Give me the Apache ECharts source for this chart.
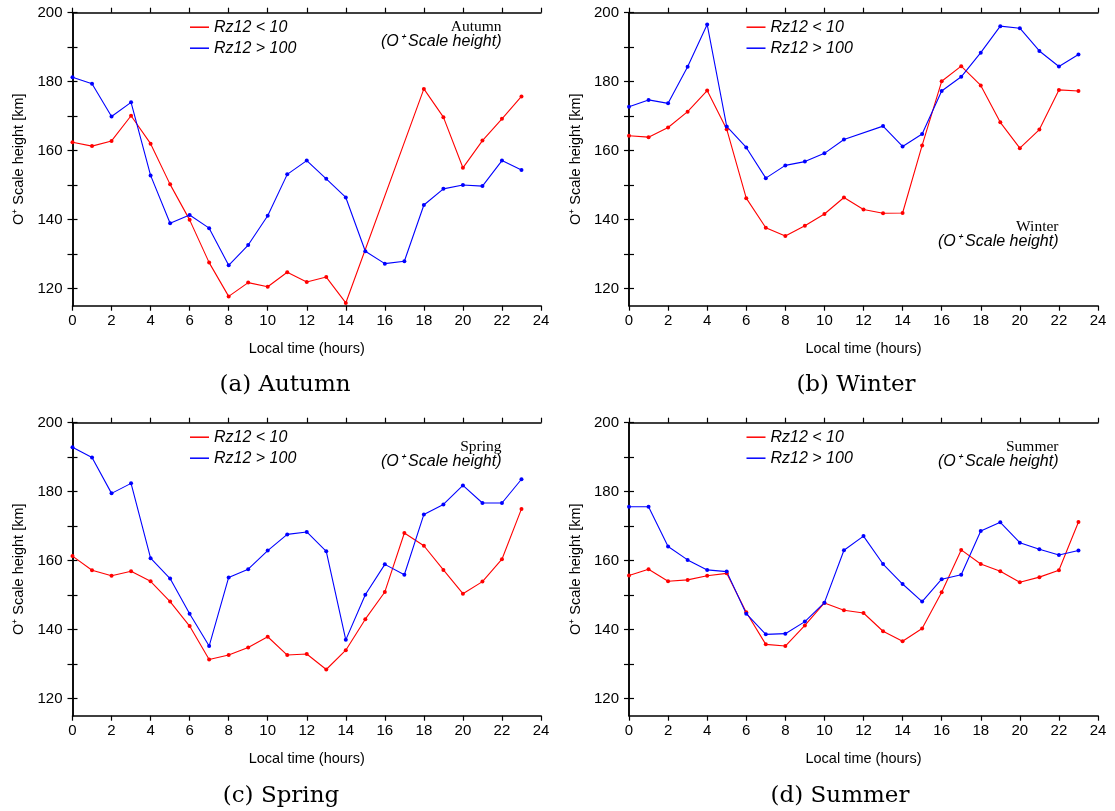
<!DOCTYPE html>
<html>
<head>
<meta charset="utf-8">
<title>O+ Scale height by local time</title>
<script src="https://cdn.jsdelivr.net/npm/echarts@6/dist/echarts.min.js"></script>
<style>
  html, body { margin: 0; padding: 0; background: #ffffff; }
  #chart { width: 1115px; height: 811px; }
</style>
</head>
<body>
<div id="chart"></div>
<script>
// Local time (hours) for each sample
const hours = [0,1,2,3,4,5,6,7,8,9,10,11,12,13,14,15,16,17,18,19,20,21,22,23];

// Series names
const lowName = 'Rz12 < 10';
const highName = 'Rz12 > 100';

// O+ scale height [km], low solar activity (Rz12 < 10)
const autumnLow = [162.4,161.3,162.8,170.1,162.0,150.2,139.9,127.5,117.7,121.7,120.5,124.7,121.9,123.3,115.8,null,null,null,177.9,169.7,155.0,162.9,169.2,175.7];
const winterLow = [164.3,163.9,166.7,171.3,177.4,166.2,146.2,137.6,135.2,138.2,141.6,146.4,142.9,141.8,141.9,161.5,180.1,184.5,178.9,168.2,160.7,166.1,177.6,177.3];
const springLow = [161.3,157.2,155.6,156.9,154.0,148.1,141.0,131.3,132.6,134.8,137.9,132.6,132.9,128.4,134.0,143.0,150.9,168.0,164.3,157.3,150.4,153.9,160.4,175.0];
const summerLow = [155.7,157.5,154.0,154.4,155.6,156.3,145.0,135.7,135.2,141.2,147.7,145.6,144.8,139.5,136.6,140.3,150.8,163.1,159.0,156.9,153.7,155.2,157.2,171.2];

// O+ scale height [km], high solar activity (Rz12 > 100)
const autumnHigh = [181.3,179.4,169.9,174.0,152.8,138.9,141.3,137.5,126.7,132.6,141.1,153.1,157.1,151.8,146.4,130.8,127.2,127.9,144.2,148.9,150.0,149.7,157.1,154.4];
const winterHigh = [172.7,174.7,173.7,184.3,196.6,167.0,160.9,152.0,155.7,156.8,159.2,163.2,null,167.1,161.2,164.8,177.3,181.4,188.4,196.1,195.5,188.9,184.4,187.9];
const springHigh = [192.9,189.9,179.5,182.4,160.7,154.8,144.6,135.2,155.1,157.5,162.9,167.6,168.3,162.7,137.0,150.1,158.9,155.9,173.4,176.3,181.8,176.7,176.7,183.6];
const summerHigh = [175.6,175.6,164.1,160.2,157.3,156.8,144.6,138.6,138.8,142.3,147.8,163.0,167.1,159.0,153.2,148.1,154.6,155.9,168.6,171.1,165.2,163.3,161.6,162.9];

// Axis ticks and labels
const xMin = 0, xMax = 24, xStep = 2;
const yMin = 115, yMax = 200;
const yLabelValues = [120,140,160,180,200];
const yTickValues = [120,130,140,150,160,170,180,190,200];

// Panel texts
const seasons = ['Autumn','Winter','Spring','Summer'];
const captions = ['(a) Autumn','(b) Winter','(c) Spring','(d) Summer'];
const noteText = '(O\u207A Scale height)';
const yAxisName = 'O\u207A Scale height [km]';
const xAxisName = 'Local time (hours)';

const lowSets = [autumnLow, winterLow, springLow, summerLow];
const highSets = [autumnHigh, winterHigh, springHigh, summerHigh];

const RED = '#ff0000';
const BLUE = '#0000ff';
const INK = '#000000';
const SANS = 'Liberation Sans, Arial, Helvetica, sans-serif';
const SERIF = 'Liberation Serif, Times New Roman, serif';
const CAPTION_SERIF = 'DejaVu Serif, Liberation Serif, serif';

// Panel frames (pixels); noteTop is the offset of the season label from the frame top
const panels = [
  { left: 72.5, top: 12.7, width: 468.5, height: 293, cap: [285, 388], noteTop: 6 },
  { left: 629,  top: 12.7, width: 469,   height: 293, cap: [856, 388], noteTop: 206 },
  { left: 72.5, top: 422.7, width: 468.5, height: 293, cap: [281, 799], noteTop: 16 },
  { left: 629,  top: 422.7, width: 469,   height: 293, cap: [840, 799], noteTop: 16 }
];

const grid = [], xAxis = [], yAxis = [], series = [], legend = [], title = [];

panels.forEach((p, i) => {
  grid.push({ left: p.left, top: p.top, width: p.width, height: p.height, containLabel: false });

  const axisLine = { show: true, lineStyle: { color: INK, width: 1.5 } };
  const tick = { color: INK, width: 1.2 };
  // bottom x axis with labels
  xAxis.push({
    type: 'value', gridIndex: i, position: 'bottom', min: xMin, max: xMax, interval: xStep,
    axisLine, splitLine: { show: false },
    axisTick: { show: true, inside: false, length: 5, lineStyle: tick },
    axisLabel: { show: true, color: INK, fontFamily: SANS, fontSize: 15, margin: 8 },
    name: xAxisName, nameLocation: 'middle', nameGap: 36,
    nameTextStyle: { color: INK, fontFamily: SANS, fontSize: 14.5 }
  });
  // top frame with ticks
  xAxis.push({
    type: 'value', gridIndex: i, position: 'top', min: xMin, max: xMax, interval: xStep,
    axisLine, splitLine: { show: false },
    axisTick: { show: true, inside: false, length: 5, lineStyle: tick },
    axisLabel: { show: false }
  });
  // left y axis with labels
  yAxis.push({
    type: 'value', gridIndex: i, position: 'left', min: yMin, max: yMax,
    axisLine, splitLine: { show: false },
    axisTick: { show: true, inside: false, length: 5, customValues: yTickValues, lineStyle: tick },
    axisLabel: { show: true, customValues: yLabelValues, color: INK, fontFamily: SANS, fontSize: 15, margin: 10 },
    name: yAxisName, nameLocation: 'middle', nameGap: 46,
    nameTextStyle: { color: INK, fontFamily: SANS, fontSize: 14.5 }
  });
  // right frame with ticks
  yAxis.push({
    type: 'value', gridIndex: i, position: 'right', min: yMin, max: yMax,
    axisLine, splitLine: { show: false },
    axisTick: { show: true, inside: false, length: 5, customValues: yTickValues, lineStyle: tick },
    axisLabel: { show: false }
  });

  const mk = (name, vals, color) => ({
    name, type: 'line', xAxisIndex: 2 * i, yAxisIndex: 2 * i,
    data: hours.map((h, k) => [h, vals[k]]),
    connectNulls: true,
    symbol: 'circle', symbolSize: 4, showSymbol: true,
    itemStyle: { color }, lineStyle: { color, width: 1.1 },
    animation: false, silent: true
  });
  series.push(mk(lowName, lowSets[i], RED));
  series.push(mk(highName, highSets[i], BLUE));

  legend.push({
    orient: 'vertical', left: p.left + 117.5, top: p.top + 6, padding: 0,
    itemWidth: 19, itemHeight: 1.5, itemGap: 4,
    icon: 'rect',
    data: [{ name: lowName, itemStyle: { color: RED } }, { name: highName, itemStyle: { color: BLUE } }],
    textStyle: { color: INK, fontStyle: 'italic', fontFamily: SANS, fontSize: 16, lineHeight: 17, padding: [0, 0, 0, 0] },
    selectedMode: false
  });

  // season annotation, right-aligned near the frame's right side
  const rightEdge = 1115 - (p.left + p.width - 39.5);
  title.push({
    text: seasons[i], padding: 0,
    right: rightEdge, top: p.top + p.noteTop,
    textStyle: { color: INK, fontFamily: SERIF, fontWeight: 'normal', fontSize: 15.5 }
  });
  title.push({
    text: noteText, padding: 0,
    right: rightEdge, top: p.top + p.noteTop + 15,
    textStyle: { color: INK, fontStyle: 'italic', fontFamily: SANS, fontWeight: 'normal', fontSize: 16 }
  });
  // panel caption
  title.push({
    text: captions[i], padding: 0,
    left: p.cap[0], top: p.cap[1] - 14, textAlign: 'center',
    textStyle: { color: INK, fontFamily: CAPTION_SERIF, fontWeight: 'normal', fontSize: 23 }
  });
});

const chart = echarts.init(document.getElementById('chart'), null, { renderer: 'canvas' });
chart.setOption({
  backgroundColor: '#ffffff',
  animation: false,
  title, legend, grid, xAxis, yAxis, series
});
</script>
</body>
</html>
